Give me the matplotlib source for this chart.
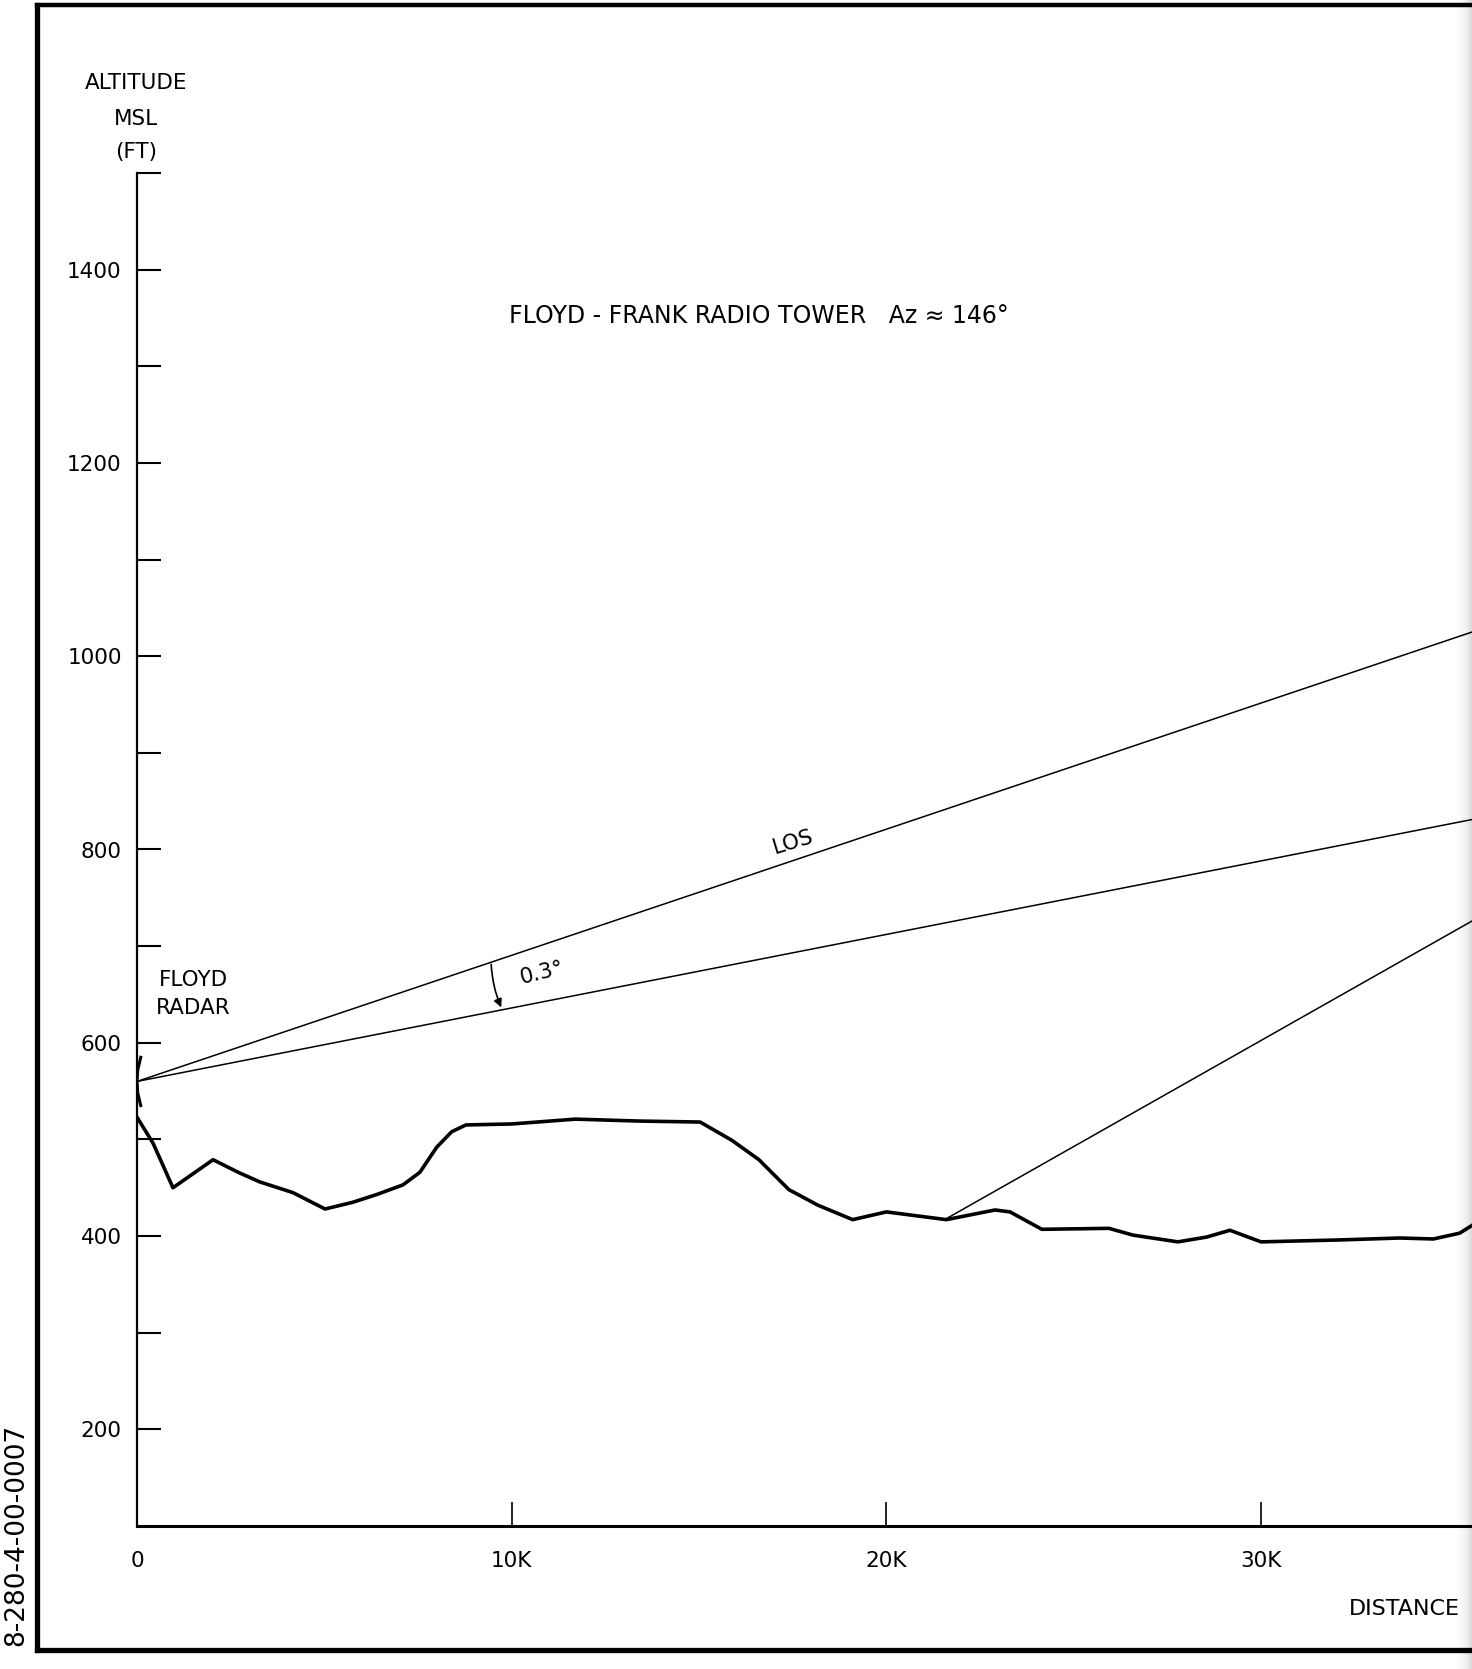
import numpy as np
import matplotlib as mpl

mpl.use('Agg')
import matplotlib.pyplot as plt
from matplotlib.lines import Line2D

# terrain profile (distance in K ft, altitude MSL ft)
terrain_x = [0.0, 0.43, 0.96, 2.03, 2.7, 3.28, 4.16, 5.02, 5.76, 6.4, 7.1, 7.55,
             8.0, 8.4, 8.78, 10.0, 11.7, 13.4, 15.03, 15.88, 16.6, 17.4, 18.17,
             19.1, 20.0, 20.8, 21.6, 22.9, 23.3, 24.15, 25.94, 26.58, 27.78,
             28.55, 29.17, 30.0, 32.1, 33.7, 34.6, 35.3, 35.63]
terrain_y = [523, 496, 450, 479, 466, 456, 445, 428, 435, 443, 453, 466,
             492, 508, 515, 516, 521, 519, 518, 499, 479, 448, 432,
             417, 425, 421, 417, 427, 425, 407, 408, 401, 394,
             399, 406, 394, 396, 398, 397, 403, 411]

# beam lines from Floyd radar
los_x = [0.0, 35.63]
los_y = [560, 1025]
lower_x = [0.0, 35.63]
lower_y = [560, 831]
tower_x = [21.6, 35.63]
tower_y = [418, 726]

# radar symbol
sym_x = [0.1, 0.02, 0.0, 0.02, 0.1]
sym_y = [585, 572, 560, 548, 535]

y_major = [200, 400, 600, 800, 1000, 1200, 1400]
y_minor = [300, 500, 700, 900, 1100, 1300, 1500]
x_major = [0, 10, 20, 30]
x_labels = ['0', '10K', '20K', '30K']

W, H = 1472, 1669
fig = plt.figure(figsize=(W / 100, H / 100), dpi=100)
FS = 15.5

# scan shading at right edge
gax = fig.add_axes([1452 / W, 0, 20 / W, 1], zorder=0)
grad = np.linspace(0, 1, 50)[None, :] ** 2
gax.imshow(grad, aspect='auto', cmap='Greys', vmin=0, vmax=4, extent=[0, 1, 0, 1])
gax.axis('off')

ax = fig.add_axes([137 / W, 143 / H, (W - 137) / W, (1526 - 173) / H], zorder=1)
ax.set_facecolor('none')
ax.set_xlim(0, 35.63)
ax.set_ylim(100, 1500)

ax.plot(terrain_x, terrain_y, color='black', lw=2.6, solid_joinstyle='round')
ax.plot(los_x, los_y, color='black', lw=1.1)
ax.plot(lower_x, lower_y, color='black', lw=1.1)
ax.plot(tower_x, tower_y, color='black', lw=1.1)
ax.plot(sym_x, sym_y, color='black', lw=2.2)

# 0.3 deg arrow
ax.annotate('', xy=(9.75, 634), xytext=(9.45, 684),
            arrowprops=dict(arrowstyle='-|>', color='black', lw=1.2,
                            mutation_scale=12, connectionstyle='arc3,rad=0.1'))

for s in ['top', 'right']:
    ax.spines[s].set_visible(False)
ax.spines['left'].set_linewidth(1.6)
ax.spines['bottom'].set_linewidth(2.2)

ax.set_yticks(y_major)
ax.set_yticks(y_minor, minor=True)
ax.tick_params(axis='y', which='both', direction='in', length=17, width=1.5,
               labelsize=FS, pad=11)
ax.set_xticks(x_major)
ax.set_xticklabels(x_labels)
ax.tick_params(axis='x', which='both', direction='in', length=17, width=1.2,
               labelsize=FS, pad=18)
ax.get_xticklabels()[0].set_x(0.2)

ax.text(16.6, 1352, 'FLOYD - FRANK RADIO TOWER   Az \u2248 146\u00b0',
        fontsize=17, ha='center', va='center')
ax.text(1.5, 665, 'FLOYD', fontsize=FS, ha='center', va='center')
ax.text(1.5, 636, 'RADAR', fontsize=FS, ha='center', va='center')
ax.text(17.5, 808, 'LOS', fontsize=FS, ha='center', va='center', rotation=17)
ax.text(10.8, 672, '0.3\u00b0', fontsize=FS, ha='center', va='center', rotation=14)

fig.text(136 / W, 1 - 83 / H, 'ALTITUDE', fontsize=FS, ha='center', va='center')
fig.text(136 / W, 1 - 119 / H, 'MSL', fontsize=FS, ha='center', va='center')
fig.text(136 / W, 1 - 152 / H, '(FT)', fontsize=FS, ha='center', va='center')
fig.text(1460 / W, 1 - 1609 / H, 'DISTANCE', fontsize=16, ha='right', va='center')
fig.text(16 / W, 1 - 1535 / H, '8-280-4-00-0007', fontsize=19, ha='center',
         va='center', rotation=90)

# page frame
fig.add_artist(Line2D([37 / W, 37 / W], [1 - 5 / H, 1 - 1650 / H], color='black', lw=3.8))
fig.add_artist(Line2D([37 / W, 1], [1 - 5 / H, 1 - 5 / H], color='black', lw=3.2))
fig.add_artist(Line2D([37 / W, 1], [1 - 1650 / H, 1 - 1650 / H], color='black', lw=3.8))

plt.savefig('out.png', dpi=100)
